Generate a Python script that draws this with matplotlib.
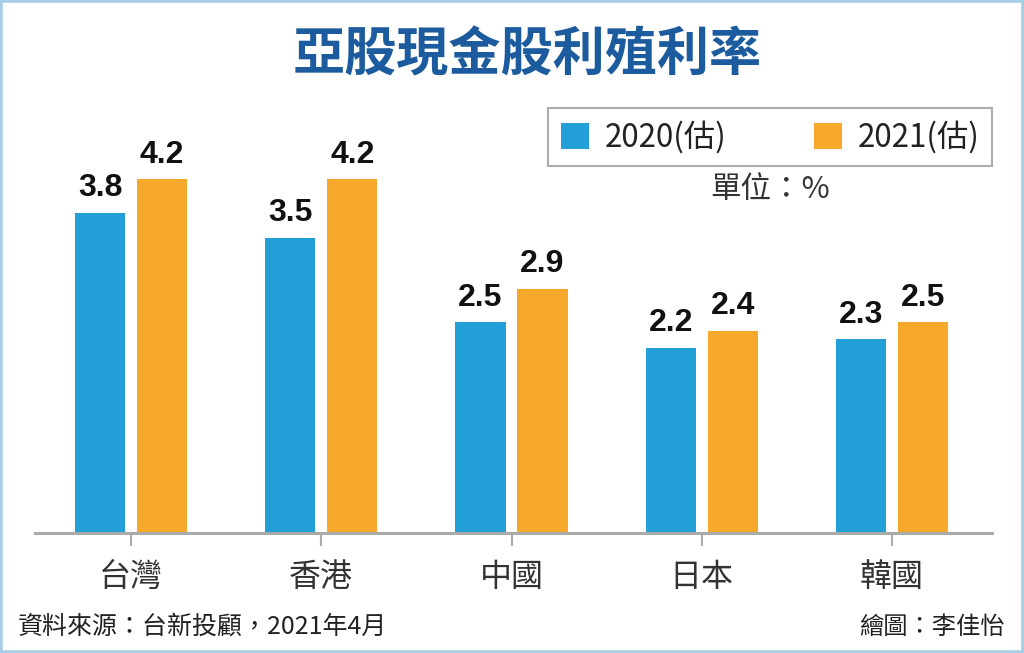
import numpy as np
import matplotlib
import matplotlib.pyplot as plt
from matplotlib.patches import Rectangle
plt.switch_backend("Agg")

plt.rcParams['font.family'] = ['Noto Sans CJK TC', 'DejaVu Sans']

categories = ["台灣", "香港", "中國", "日本", "韓國"]
y2020 = [3.8, 3.5, 2.5, 2.2, 2.3]
y2021 = [4.2, 4.2, 2.9, 2.4, 2.5]
series_names = ["2020(估)", "2021(估)"]

BLUE = "#219fd6"
ORANGE = "#f6a82c"
TITLE_C = "#1c5c9e"

fig = plt.figure(figsize=(10.24, 6.53), dpi=100)
ax = fig.add_axes([35 / 1024, 1 - 533 / 653, 957 / 1024, 433 / 653])

x = np.arange(len(categories))
w = 0.263
off = 0.163
b1 = ax.bar(x - off, y2020, w, color=BLUE, label=series_names[0], zorder=2)
b2 = ax.bar(x + off, y2021, w, color=ORANGE, label=series_names[1], zorder=2)

num_font = ['Liberation Sans', 'DejaVu Sans']
for bars in (b1, b2):
    for r in bars:
        ax.annotate(f"{r.get_height():.1f}", (r.get_x() + r.get_width() / 2, r.get_height()),
                    xytext=(0, 12), textcoords="offset points", ha="center", va="baseline",
                    fontsize=23, fontweight="bold", family=num_font, color="#111111")

ax.set_xlim(-0.505, 4.526)
ax.set_ylim(0, 5.14)
ax.set_xticks(x)
ax.set_xticklabels(categories, fontsize=23, color="#333333")
ax.set_yticks([])
for s in ("top", "right", "left"):
    ax.spines[s].set_visible(False)
ax.spines["bottom"].set_color("#aaaaaa")
ax.spines["bottom"].set_linewidth(2.2)
ax.spines["bottom"].set_zorder(3)
ax.tick_params(axis="x", direction="out", length=9, width=1.5, color="#aaaaaa", pad=11)

leg = ax.legend(handles=[b1, b2], loc="upper right", bbox_to_anchor=(992 / 1024, 1 - 108 / 653),
                bbox_transform=fig.transFigure, ncol=2, fontsize=22.5, frameon=True, fancybox=False,
                handlelength=0.9, handleheight=0.9, handletextpad=0.5, columnspacing=2.8,
                borderpad=0.4, borderaxespad=0)
leg.get_frame().set_edgecolor("#999999")
leg.get_frame().set_linewidth(1.5)
for t in leg.get_texts():
    t.set_color("#222222")

fig.text(527 / 1024, 1 - 55 / 653, "亞股現金股利殖利率", ha="center", va="center",
         fontsize=37.5, fontweight="bold", color=TITLE_C)
fig.text(770 / 1024, 1 - 190 / 653, "單位：%", ha="center", va="center", fontsize=22, color="#333333")
fig.text(18 / 1024, 1 - 627 / 653, "資料來源：台新投顧，2021年4月", ha="left", va="center",
         fontsize=18, color="#222222")
fig.text(1005 / 1024, 1 - 627 / 653, "繪圖：李佳怡", ha="right", va="center",
         fontsize=17.5, color="#222222")

fig.patches.append(Rectangle((0, 0), 1, 1, transform=fig.transFigure, fill=False,
                             edgecolor="#a8cde6", linewidth=4))

fig.savefig("out.png", dpi=100)
plt.close(fig)
